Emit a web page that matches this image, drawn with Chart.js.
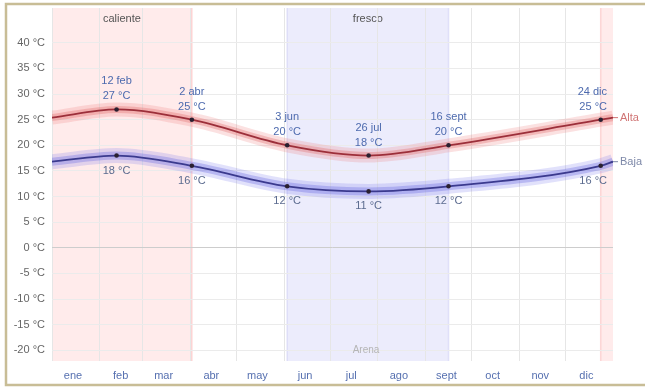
<!DOCTYPE html>
<html>
<head>
<meta charset="utf-8">
<script src="https://cdn.jsdelivr.net/npm/chart.js@4/dist/chart.umd.min.js"></script>
<style>
  html, body { margin: 0; padding: 0; background: #fff; }
  #wrap { width: 645px; height: 388px; position: relative; }
</style>
</head>
<body>
<div id="wrap"><canvas id="c" width="645" height="388"></canvas></div>
<script>
// Month axis (day of year, Jan 1 = 0)
const monthNames = ['ene', 'feb', 'mar', 'abr', 'may', 'jun', 'jul', 'ago', 'sept', 'oct', 'nov', 'dic'];
const monthStartDays = [0, 31, 59, 90, 120, 151, 181, 212, 243, 273, 304, 334];
const yTicks = [-20, -15, -10, -5, 0, 5, 10, 15, 20, 25, 30, 35, 40];

// Daily average high / low temperature (°C)
const dayOfYear = [0, 42, 91, 153, 206, 258, 357, 365];
const highTemp = [25.4, 27, 25, 20, 18, 20, 25, 25.4];
const lowTemp = [16.8, 18, 16, 12, 11, 12, 16, 16.8];
const markDates = [null, '12 feb', '2 abr', '3 jun', '26 jul', '16 sept', '24 dic', null];

// Seasons
const seasonNames = ['caliente', 'fresco', 'caliente'];
const seasonStart = [0, 153, 357];
const seasonEnd = [91, 258, 365];

const highPts = dayOfYear.map((d, i) => ({ x: d, y: highTemp[i] }));
const lowPts = dayOfYear.map((d, i) => ({ x: d, y: lowTemp[i] }));

const FONT = '"Liberation Sans", Arial, sans-serif';

function lineSet(data, color, width, order, marks) {
  return {
    data,
    borderColor: color,
    borderWidth: width,
    cubicInterpolationMode: 'monotone',
    fill: false,
    order,
    pointRadius: marks ? (c => (markDates[c.dataIndex] ? 2.3 : 0)) : 0,
    pointBackgroundColor: '#2a2030',
    pointBorderWidth: 0,
    borderCapStyle: 'butt'
  };
}

const backdrop = {
  id: 'backdrop',
  beforeDraw(chart) {
    const { ctx, chartArea: a, scales: { x } } = chart;
    ctx.save();
    ctx.fillStyle = '#fff';
    ctx.fillRect(0, 0, chart.width, chart.height);
    seasonNames.forEach((name, i) => {
      const x0 = x.getPixelForValue(seasonStart[i]);
      const x1 = x.getPixelForValue(seasonEnd[i]);
      const hot = name === 'caliente';
      ctx.fillStyle = hot ? 'rgba(255,218,218,0.55)' : 'rgba(220,220,250,0.55)';
      ctx.fillRect(x0, a.top, x1 - x0, a.bottom - a.top);
      ctx.strokeStyle = hot ? 'rgba(250,185,185,0.55)' : 'rgba(205,205,245,0.55)';
      ctx.lineWidth = 1.5;
      ctx.beginPath();
      if (seasonStart[i] > x.min) { ctx.moveTo(x0, a.top); ctx.lineTo(x0, a.bottom); }
      if (seasonEnd[i] < x.max) { ctx.moveTo(x1, a.top); ctx.lineTo(x1, a.bottom); }
      ctx.stroke();
      if (x1 - x0 > 60) {
        ctx.fillStyle = '#555';
        ctx.font = '11px ' + FONT;
        ctx.textAlign = 'center';
        ctx.textBaseline = 'middle';
        ctx.fillText(name, (x0 + x1) / 2, 19);
      }
    });
    ctx.restore();
  },
  afterDraw(chart) {
    const { ctx, chartArea: a, scales: { x, y } } = chart;
    ctx.save();
    ctx.font = '11px ' + FONT;
    ctx.textBaseline = 'middle';
    // value annotations
    dayOfYear.forEach((d, i) => {
      if (!markDates[i]) return;
      const px = x.getPixelForValue(d);
      const hy = y.getPixelForValue(highTemp[i]);
      const ly = y.getPixelForValue(lowTemp[i]);
      const hTxt = Math.round(highTemp[i]) + ' °C';
      const lTxt = Math.round(lowTemp[i]) + ' °C';
      const place = (txt) => {
        const w = ctx.measureText(txt).width;
        return Math.min(px, a.right - 6 - w / 2);
      };
      ctx.textAlign = 'center';
      ctx.fillStyle = '#4d6aae';
      ctx.fillText(markDates[i], place(markDates[i]), hy - 28);
      ctx.fillText(hTxt, place(hTxt), hy - 13);
      ctx.fillStyle = '#5b6b8f';
      ctx.fillText(lTxt, place(lTxt), ly + 15);
    });
    // series names at the right end
    const endDay = dayOfYear[dayOfYear.length - 1];
    const ex = x.getPixelForValue(endDay);
    [[highTemp, 'Alta', '#d07474'], [lowTemp, 'Baja', '#7d88a8']].forEach(([arr, name, col]) => {
      const ey = y.getPixelForValue(arr[arr.length - 1]);
      ctx.strokeStyle = col;
      ctx.lineWidth = 1;
      ctx.beginPath();
      ctx.moveTo(ex, ey);
      ctx.lineTo(ex + 5, ey);
      ctx.stroke();
      ctx.fillStyle = col;
      ctx.textAlign = 'left';
      ctx.fillText(name, ex + 7, ey);
    });
    // station caption
    ctx.fillStyle = '#b5b5b5';
    ctx.font = '10px ' + FONT;
    ctx.textAlign = 'center';
    ctx.fillText('Arena', 366, 350);
    // frame
    ctx.strokeStyle = '#c8bd96';
    ctx.lineWidth = 2.5;
    ctx.beginPath();
    ctx.moveTo(645, 4); ctx.lineTo(6, 4); ctx.lineTo(6, 385); ctx.lineTo(645, 385);
    ctx.stroke();
    ctx.restore();
  }
};

new Chart(document.getElementById('c'), {
  type: 'line',
  data: {
    datasets: [
      lineSet(highPts, 'rgba(236,120,120,0.22)', 14, 6, false),
      lineSet(highPts, 'rgba(226,110,110,0.35)', 7, 5, false),
      lineSet(highPts, '#9c2f3a', 1.8, 1, true),
      lineSet(lowPts, 'rgba(120,120,235,0.22)', 15, 6, false),
      lineSet(lowPts, 'rgba(110,110,225,0.35)', 8, 5, false),
      lineSet(lowPts, '#3b3a8e', 1.8, 1, true)
    ]
  },
  options: {
    responsive: false,
    animation: false,
    events: [],
    layout: { padding: { top: 8, right: 32, left: 0, bottom: 0 } },
    plugins: { legend: { display: false }, tooltip: { enabled: false } },
    scales: {
      x: {
        type: 'linear', min: 0, max: 365,
        afterBuildTicks: s => { s.ticks = monthStartDays.map(v => ({ value: v })); },
        afterFit: s => { s.height = 27; s.paddingLeft = 0; s.paddingRight = 0; },
        ticks: {
          callback: (v, i) => monthNames[i],
          labelOffset: 21, padding: 8, autoSkip: false, maxRotation: 0,
          color: '#5670b0', font: { size: 11, family: FONT }
        },
        grid: { color: '#e6e6e6', drawTicks: false },
        border: { display: false }
      },
      y: {
        min: -22.1, max: 46.8,
        afterBuildTicks: s => { s.ticks = yTicks.map(v => ({ value: v })); },
        afterFit: s => { s.width = 52; s.paddingTop = 0; s.paddingBottom = 0; },
        ticks: {
          callback: v => v + ' °C',
          padding: 7, color: '#666', font: { size: 11, family: FONT }
        },
        grid: { color: c => (c.tick && c.tick.value === 0 ? '#cdcdcd' : '#ebebeb'), drawTicks: false },
        border: { display: false }
      }
    }
  },
  plugins: [backdrop]
});
</script>
</body>
</html>
